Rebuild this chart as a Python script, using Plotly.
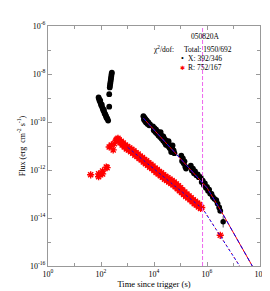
import plotly.graph_objects as go

# ---------------- data (log10 values) ----------------
# X-ray (black circles): log10(time / s), log10(flux / erg cm^-2 s^-1)
x_logt = [
    # early decay
    1.91, 1.93, 1.95, 1.97, 1.99, 2.01, 2.03, 2.05, 2.07, 2.09, 2.11, 2.13, 2.15, 2.17, 2.19, 2.21, 2.24, 2.27,
    # flare
    2.31, 2.31, 2.33, 2.34, 2.35, 2.36, 2.37, 2.38, 2.39, 2.40, 2.41,
    # segment 1
    3.60, 3.62, 3.64, 3.66, 3.68, 3.70, 3.73, 3.76, 3.79, 3.82, 3.85,
    # segment 2
    3.96, 3.99, 4.02, 4.05, 4.08, 4.11, 4.14, 4.17, 4.20, 4.23, 4.25, 4.26, 4.29, 4.32, 4.35, 4.35, 4.38,
    4.41, 4.44, 4.45, 4.47, 4.50, 4.53, 4.55, 4.56, 4.59, 4.62, 4.65, 4.65, 4.68, 4.70, 4.71, 4.74, 4.77,
    # segment 3
    5.03, 5.06, 5.09, 5.12, 5.15, 5.18, 5.21,
    # segment 4
    5.39, 5.43, 5.47, 5.51, 5.55, 5.60, 5.65, 5.69,
    # segment 5
    5.76, 5.80, 5.84, 5.88, 5.92, 5.96, 6.00, 6.04, 6.08, 6.12, 6.17,
    # segment 6
    6.22, 6.28, 6.35, 6.40, 6.46, 6.50,
]
x_logf = [
    -8.98, -9.05, -9.12, -9.10, -9.22, -9.30, -9.28, -9.40, -9.45, -9.52, -9.50, -9.62, -9.66, -9.70, -9.76, -9.82, -9.86, -9.94,
    -9.36, -8.84, -8.56, -8.48, -8.40, -8.32, -8.24, -8.16, -8.08, -8.00, -7.94,
    -9.76, -9.90, -9.82, -9.96, -9.88, -10.02, -9.94, -10.08, -10.02, -10.14, -10.10,
    -10.18, -10.34, -10.26, -10.42, -10.32, -10.48, -10.40, -10.56, -10.46, -10.62, -10.42, -10.54, -10.70, -10.60, -10.78, -10.60, -10.68,
    -10.86, -10.76, -10.95, -10.92, -10.84, -11.00, -10.80, -10.92, -11.08, -11.00, -11.16, -11.25, -11.08, -10.98, -11.24, -11.18, -11.30,
    -11.40, -11.62, -11.52, -11.72, -11.64, -11.86, -11.94,
    -11.82, -12.02, -11.94, -12.14, -12.06, -12.22, -12.18, -12.30,
    -12.30, -12.50, -12.44, -12.62, -12.56, -12.74, -12.70, -12.86, -12.82, -12.98, -13.00,
    -13.12, -13.20, -13.26, -13.40, -13.56, -13.70,
]
# last X point with error bar
x_last_logt = [6.61]
x_last_logf = [-14.16]
x_last_err_up = [5.1e-15]
x_last_err_dn = [2.9e-15]

# Optical R band (red asterisks)
r_logt = [
    1.61, 1.91, 1.91, 2.06, 2.06, 2.20, 2.23,
    2.31, 2.39, 2.46, 2.50, 2.57, 2.60, 2.64,
    2.68, 2.72, 2.76, 2.80, 2.84, 2.88, 2.92, 2.96, 3.00, 3.04, 3.08, 3.12, 3.16, 3.20, 3.24, 3.28,
    3.32, 3.36, 3.40, 3.44, 3.48, 3.52, 3.56, 3.60, 3.64, 3.68, 3.72, 3.76, 3.80, 3.84, 3.88, 3.92,
    3.96, 4.00, 4.04, 4.08, 4.12, 4.16, 4.20, 4.24, 4.28, 4.32, 4.36, 4.40, 4.44, 4.48, 4.52, 4.56,
    4.60, 4.64, 4.68, 4.72, 4.76, 4.80, 4.84, 4.88, 4.92, 4.96, 5.00, 5.04, 5.08, 5.12, 5.16, 5.20,
    5.24, 5.28, 5.32, 5.36, 5.40, 5.44, 5.48, 5.52, 5.56, 5.60, 5.64, 5.68, 5.72, 5.76, 5.80,
    6.50,
]
r_logf = [
    -12.20, -12.16, -12.28, -12.16, -12.04, -11.88, -11.90,
    -11.04, -10.96, -11.16, -10.90, -10.76, -10.72, -10.68,
    -10.74, -10.86, -10.80, -10.96, -10.88, -11.04, -10.96, -11.12, -11.02, -11.16, -11.08, -11.24, -11.14, -11.30, -11.20, -11.38,
    -11.28, -11.44, -11.34, -11.52, -11.42, -11.58, -11.48, -11.66, -11.56, -11.74, -11.62, -11.80, -11.70, -11.88, -11.76, -11.94,
    -11.84, -12.02, -11.92, -12.10, -11.98, -12.16, -12.06, -12.24, -12.12, -12.30, -12.20, -12.38, -12.26, -12.44, -12.32, -12.50,
    -12.38, -12.56, -12.44, -12.62, -12.50, -12.70, -12.58, -12.78, -12.66, -12.86, -12.74, -12.94, -12.84, -13.02, -12.92, -13.10,
    -13.00, -13.16, -13.08, -13.24, -13.16, -13.32, -13.24, -13.40, -13.30, -13.46, -13.38, -13.54, -13.44, -13.60, -13.56,
    -14.72,
]

# model curves (knots, log10)
xm_logt = [3.60, 5.00, 6.00, 6.60, 7.76]
xm_logf = [-9.84, -11.53, -12.74, -13.84, -16.10]
rm_logt = [3.00, 5.85, 7.29]
rm_logf = [-11.05, -13.63, -16.10]

break_time = 6.8e5

x_major = [1e0, 1e2, 1e4, 1e6, 1e8]
x_major_text = ["10<sup>0</sup>", "10<sup>2</sup>", "10<sup>4</sup>", "10<sup>6</sup>", "10<sup>8</sup>"]
x_minor = [1e1, 1e3, 1e5, 1e7]
y_major = [1e-16, 1e-14, 1e-12, 1e-10, 1e-8, 1e-6]
y_major_text = ["10<sup>-16</sup>", "10<sup>-14</sup>", "10<sup>-12</sup>", "10<sup>-10</sup>",
                "10<sup>-8</sup>", "10<sup>-6</sup>"]
y_minor = [1e-15, 1e-13, 1e-11, 1e-9, 1e-7]

# ---------------- figure ----------------
p = lambda v: [10 ** a for a in v]
FONT = "Liberation Serif"

fig = go.Figure()

fig.add_trace(go.Scatter(x=p(r_logt), y=p(r_logf), mode="markers",
                         marker=dict(symbol="asterisk-open", size=6, color="red",
                                     line=dict(color="red", width=1.4)),
                         showlegend=False))
fig.add_trace(go.Scatter(x=p(x_logt), y=p(x_logf), mode="markers",
                         marker=dict(symbol="circle", size=5.8, color="black"),
                         showlegend=False))
fig.add_trace(go.Scatter(x=p(x_last_logt), y=p(x_last_logf), mode="markers",
                         marker=dict(symbol="circle", size=5.5, color="black"),
                         error_y=dict(type="data", symmetric=False, array=x_last_err_up,
                                      arrayminus=x_last_err_dn, color="#555", thickness=1, width=0),
                         showlegend=False))

# X model
fig.add_trace(go.Scatter(x=p(xm_logt), y=p(xm_logf), mode="lines",
                         line=dict(color="red", width=1), showlegend=False))
fig.add_trace(go.Scatter(x=p(xm_logt), y=p(xm_logf), mode="lines",
                         line=dict(color="blue", width=1, dash="4px,3px"), showlegend=False))
# R model
fig.add_trace(go.Scatter(x=p(rm_logt), y=p(rm_logf), mode="lines",
                         line=dict(color="blue", width=1, dash="3px,2px"), showlegend=False))
fig.add_trace(go.Scatter(x=p(rm_logt), y=p(rm_logf), mode="lines",
                         line=dict(color="red", width=1, dash="1px,4px"), showlegend=False))

fig.add_shape(type="line", xref="x", yref="paper", x0=break_time, x1=break_time, y0=0, y1=1,
              line=dict(color="#ee66ee", width=1, dash="4px,2px"))

axis_common = dict(type="log", showline=True, linecolor="#999999", linewidth=1, mirror="ticks",
                   ticks="inside", ticklen=4, tickcolor="#999999", tickwidth=1,
                   showgrid=False, zeroline=False,
                   tickfont=dict(family=FONT, size=8, color="black"))

fig.update_xaxes(range=[0, 8], tickmode="array", tickvals=x_major, ticktext=x_major_text,
                 minor=dict(tickmode="array", tickvals=x_minor, ticks="inside", ticklen=3,
                            tickcolor="#999999", showgrid=False),
                 title=dict(text="Time since trigger (s)", font=dict(family=FONT, size=8.5, color="black"),
                            standoff=2),
                 **axis_common)
fig.update_yaxes(range=[-16, -6], tickmode="array", tickvals=y_major, ticktext=y_major_text,
                 minor=dict(tickmode="array", tickvals=y_minor, ticks="inside", ticklen=3,
                            tickcolor="#999999", showgrid=False),
                 title=dict(text="Flux (erg  cm<sup>-2</sup> s<sup>-1</sup>)",
                            font=dict(family=FONT, size=8, color="black"), standoff=3),
                 **axis_common)

ann_font = dict(family=FONT, size=7.5, color="black")
def ax(px):
    return (px - 40) / 218
def ay(py):
    return (264 - py) / 250

annotations = [
    dict(text="050820A", x=ax(202), y=ay(25), xanchor="center"),
    dict(text="χ<sup>2</sup>/dof:", x=ax(147), y=ay(38), xanchor="left"),
    dict(text="Total: 1950/692", x=ax(178), y=ay(38), xanchor="left"),
    dict(text="X: 392/346", x=ax(182), y=ay(48), xanchor="left"),
    dict(text="R: 752/167", x=ax(182), y=ay(57), xanchor="left"),
]
for a in annotations:
    fig.add_annotation(xref="paper", yref="paper", yanchor="middle", showarrow=False,
                       font=ann_font, **a)
fig.add_annotation(xref="paper", yref="paper", x=ax(178), y=ay(48), text="•", showarrow=False,
                   xanchor="center", yanchor="middle", font=dict(family=FONT, size=8, color="black"))
fig.add_annotation(xref="paper", yref="paper", x=ax(178.5), y=ay(57), text="✱", showarrow=False,
                   xanchor="center", yanchor="middle", font=dict(family="DejaVu Sans", size=6, color="red"))

fig.update_layout(width=270, height=291, margin=dict(l=40, r=12, t=14, b=27, pad=0),
                  paper_bgcolor="white", plot_bgcolor="white",
                  font=dict(family=FONT, size=7, color="black"))

fig.write_html("out.html")
